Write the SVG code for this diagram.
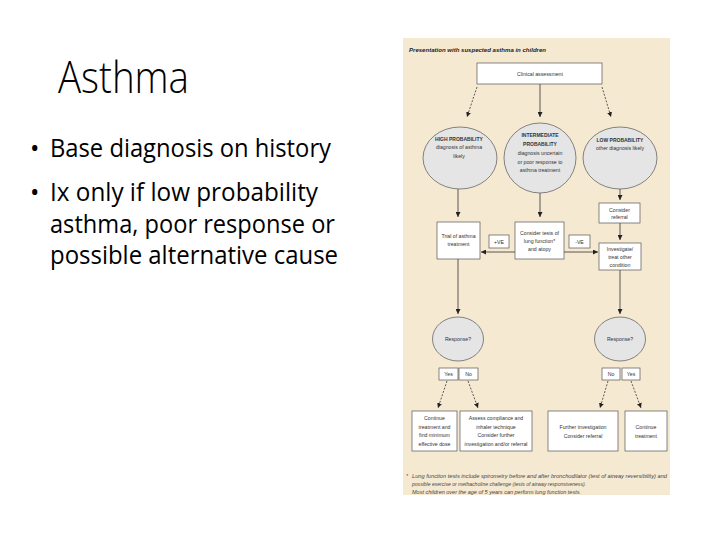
<svg xmlns="http://www.w3.org/2000/svg" width="720" height="540" viewBox="0 0 720 540">
<style>
.slide{font-family:"Open Sans","Liberation Sans",sans-serif;fill:#000}
.fc{font-family:"Liberation Sans","Noto Sans",sans-serif;font-size:5.2px;fill:#333;text-anchor:middle}
.cap{font-size:5px;font-weight:bold}
.box{fill:#fff;stroke:#555;stroke-width:0.7}
.ell{fill:#e5e5e5;stroke:#555;stroke-width:0.7}
.ln{fill:none;stroke:#333;stroke-width:0.8}
.dash{stroke-dasharray:2 1.5}
.foot{font-family:"Liberation Sans","Noto Sans",sans-serif;font-size:5px;font-style:italic;fill:#444}
</style>
<defs>
<marker id="ah" markerUnits="userSpaceOnUse" markerWidth="5" markerHeight="5" viewBox="0 0 5 5" refX="5" refY="2.5" orient="auto">
<path d="M0,0 L5,2.5 L0,5 Z" fill="#222"/>
</marker>
</defs>
<rect width="720" height="540" fill="#fff"/>
<g id="slide-title"><text class="slide" x="58" y="93" font-size="44" font-weight="300" textLength="131" lengthAdjust="spacingAndGlyphs">Asthma</text></g>
<g id="bullets" class="slide" font-size="25">
<text x="30" y="157">•</text>
<text x="50" y="157" textLength="281" lengthAdjust="spacingAndGlyphs">Base diagnosis on history</text>
<text x="30" y="201">•</text>
<text x="50" y="201" textLength="268" lengthAdjust="spacingAndGlyphs">Ix only if low probability</text>
<text x="50" y="233" textLength="285" lengthAdjust="spacingAndGlyphs">asthma, poor response or</text>
<text x="50" y="264" textLength="288" lengthAdjust="spacingAndGlyphs">possible alternative cause</text>
</g>
<g id="panel">
<rect x="403" y="38" width="267" height="457" fill="#f6e9d2"/>
<text x="409" y="52" font-family="Liberation Sans, sans-serif" font-size="6.2" font-weight="bold" font-style="italic" fill="#222" textLength="137" lengthAdjust="spacingAndGlyphs">Presentation with suspected asthma in children</text>
</g>
<g id="connectors">
<line class="ln dash" x1="477" y1="87" x2="467" y2="117" marker-end="url(#ah)"/>
<line class="ln" x1="540" y1="84" x2="540" y2="117" marker-end="url(#ah)"/>
<line class="ln dash" x1="602" y1="87" x2="611" y2="117" marker-end="url(#ah)"/>
<line class="ln" x1="458" y1="189" x2="458" y2="217" marker-end="url(#ah)"/>
<line class="ln" x1="540" y1="193" x2="540" y2="217" marker-end="url(#ah)"/>
<line class="ln" x1="620" y1="189" x2="620" y2="200" marker-end="url(#ah)"/>
<line class="ln" x1="620" y1="223" x2="620" y2="240" marker-end="url(#ah)"/>
<line class="ln" x1="515" y1="252" x2="481" y2="252" marker-end="url(#ah)"/>
<line class="ln" x1="564" y1="252" x2="598" y2="252" marker-end="url(#ah)"/>
<line class="ln" x1="458" y1="259" x2="458" y2="314" marker-end="url(#ah)"/>
<line class="ln" x1="620" y1="270" x2="620" y2="314" marker-end="url(#ah)"/>
<line class="ln dash" x1="447" y1="381" x2="438" y2="408" marker-end="url(#ah)"/>
<line class="ln dash" x1="468" y1="381" x2="478" y2="408" marker-end="url(#ah)"/>
<line class="ln dash" x1="608" y1="381" x2="600" y2="408" marker-end="url(#ah)"/>
<line class="ln dash" x1="631" y1="381" x2="641" y2="408" marker-end="url(#ah)"/>
</g>
<g id="clinical"><rect class="box" x="477" y="63" width="125" height="21"/><text class="fc" x="540" y="76">Clinical assessment</text></g>
<g id="high"><ellipse class="ell" cx="460" cy="158" rx="37" ry="31"/>
<text class="fc cap" x="459" y="141">HIGH PROBABILITY</text><text class="fc" x="459" y="149">diagnosis of asthma</text><text class="fc" x="459" y="158">likely</text></g>
<g id="intermediate"><ellipse class="ell" cx="540" cy="158" rx="36" ry="35"/>
<text class="fc cap" x="540" y="137">INTERMEDIATE</text><text class="fc cap" x="540" y="146">PROBABILITY</text><text class="fc" x="540" y="155">diagnosis uncertain</text><text class="fc" x="540" y="164">or poor response to</text><text class="fc" x="540" y="172">asthma treatment</text></g>
<g id="low"><ellipse class="ell" cx="620" cy="158" rx="37" ry="31"/>
<text class="fc cap" x="620" y="142">LOW PROBABILITY</text><text class="fc" x="620" y="150">other diagnosis likely</text></g>
<g id="trial"><rect class="box" x="437" y="222" width="43" height="37"/><text class="fc" x="458.5" y="238">Trial of asthma</text><text class="fc" x="458.5" y="246">treatment</text></g>
<g id="consider-tests"><rect class="box" x="515" y="222" width="49" height="37"/><text class="fc" x="539.5" y="235">Consider tests of</text><text class="fc" x="539.5" y="243">lung function*</text><text class="fc" x="539.5" y="251">and atopy</text></g>
<g id="pos"><rect class="box" x="489" y="235" width="20" height="13"/><text class="fc" x="499" y="243.5">+VE</text></g>
<g id="neg"><rect class="box" x="569" y="235" width="21" height="13"/><text class="fc" x="579.5" y="243.5">-VE</text></g>
<g id="referral"><rect class="box" x="599" y="203" width="41" height="20"/><text class="fc" x="619.5" y="211.5">Consider</text><text class="fc" x="619.5" y="219">referral</text></g>
<g id="investigate"><rect class="box" x="599" y="243" width="42" height="27"/><text class="fc" x="620" y="250.5">Investigate/</text><text class="fc" x="620" y="258.5">treat other</text><text class="fc" x="620" y="266.5">condition</text></g>
<g id="response-left"><ellipse class="ell" cx="458" cy="339" rx="25.5" ry="22"/><text class="fc" x="458" y="341">Response?</text></g>
<g id="response-right"><ellipse class="ell" cx="620" cy="339" rx="25.5" ry="22"/><text class="fc" x="620" y="341">Response?</text></g>
<g id="yes-left"><rect class="box" x="439" y="368" width="19" height="12"/><text class="fc" x="448.5" y="376">Yes</text></g>
<g id="no-left"><rect class="box" x="459" y="368" width="19" height="12"/><text class="fc" x="468.5" y="376">No</text></g>
<g id="no-right"><rect class="box" x="602" y="368" width="18" height="12"/><text class="fc" x="611" y="376">No</text></g>
<g id="yes-right"><rect class="box" x="622" y="368" width="18" height="12"/><text class="fc" x="631" y="376">Yes</text></g>
<g id="continue-min"><rect class="box" x="412" y="411" width="45" height="40"/><text class="fc" x="434.5" y="420">Continue</text><text class="fc" x="434.5" y="428.5">treatment and</text><text class="fc" x="434.5" y="437">find minimum</text><text class="fc" x="434.5" y="446">effective dose</text></g>
<g id="assess"><rect class="box" x="460" y="411" width="72" height="40"/><text class="fc" x="496" y="420">Assess compliance and</text><text class="fc" x="496" y="428.5">inhaler technique</text><text class="fc" x="496" y="437">Consider further</text><text class="fc" x="496" y="446">investigation and/or referral</text></g>
<g id="further"><rect class="box" x="548" y="411" width="70" height="40"/><text class="fc" x="583" y="429">Further investigation</text><text class="fc" x="583" y="438">Consider referral</text></g>
<g id="continue"><rect class="box" x="625" y="411" width="42" height="40"/><text class="fc" x="646" y="429">Continue</text><text class="fc" x="646" y="438">treatment</text></g>
<g id="footnote">
<text class="foot" x="406" y="478">*</text>
<text class="foot" x="412" y="478" textLength="255" lengthAdjust="spacingAndGlyphs">Lung function tests include spirometry before and after bronchodilator (test of airway reversibility) and</text>
<text class="foot" x="412" y="486" textLength="174" lengthAdjust="spacingAndGlyphs">possible exercise or methacholine challenge (tests of airway responsiveness).</text>
<text class="foot" x="412" y="494" textLength="169" lengthAdjust="spacingAndGlyphs">Most children over the age of 5 years can perform lung function tests.</text>
</g>
</svg>
